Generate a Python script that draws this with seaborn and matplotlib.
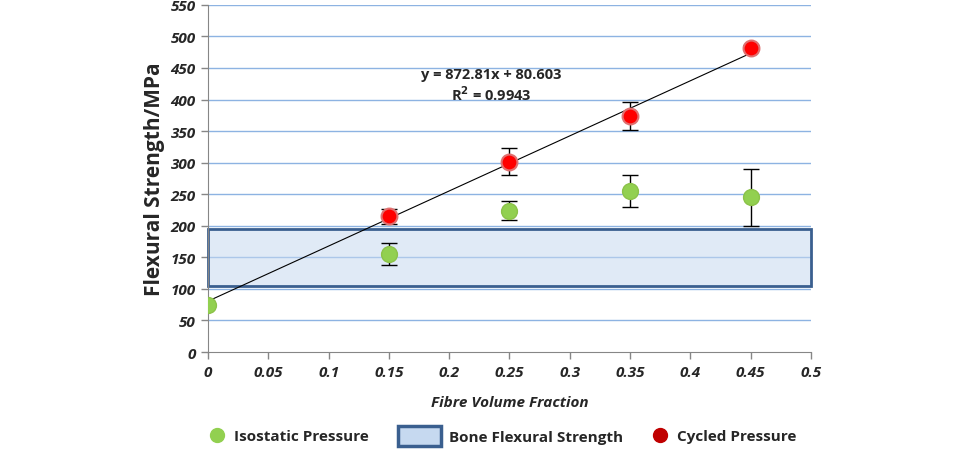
import numpy as np
import pandas as pd
import matplotlib
matplotlib.use('Agg')
import matplotlib.pyplot as plt
import seaborn as sns
from matplotlib.lines import Line2D
from matplotlib.patches import Patch, Rectangle

# data
iso_x = [0, 0.15, 0.25, 0.35, 0.45]
iso_y = [74, 155, 224, 255, 245]
iso_lo = [0, 17, 15, 25, 46]
iso_hi = [0, 17, 16, 25, 45]

cyc_x = [0.15, 0.25, 0.35, 0.45]
cyc_y = [215, 301, 374, 481]
cyc_lo = [12, 21, 22, 3]
cyc_hi = [12, 22, 22, 6]

bone_lo, bone_hi = 105, 195
slope, intercept = 872.81, 80.603

sns.set_style('white')
plt.rcParams['font.family'] = ['Open Sans', 'DejaVu Sans']

iso = pd.DataFrame({'x': iso_x, 'y': iso_y, 'group': 'Isostatic Pressure'})
cyc = pd.DataFrame({'x': cyc_x, 'y': cyc_y, 'group': 'Cycled Pressure'})

fig = plt.figure(figsize=(9.6, 4.52), dpi=100)
ax = fig.add_axes([0.2167, 0.219, 0.628, 0.768])

# grid
for v in np.arange(50, 551, 50):
    ax.axhline(v, color='#8db3e2', lw=1, zorder=0)

# bone strength band
ax.add_patch(Rectangle((0, bone_lo), 0.5, bone_hi - bone_lo,
                       facecolor=(0.78, 0.85, 0.94, 0.55), edgecolor='#3a5f8f',
                       lw=2, zorder=1, clip_on=False))

# trend line
tx = np.array([0, 0.45])
ax.plot(tx, slope * tx + intercept, color='black', lw=0.8, zorder=2)

# error bars
ax.errorbar(iso_x[1:], iso_y[1:], yerr=[iso_lo[1:], iso_hi[1:]], fmt='none',
            ecolor='black', elinewidth=1, capsize=6, zorder=3)
ax.errorbar(cyc_x, cyc_y, yerr=[cyc_lo, cyc_hi], fmt='none',
            ecolor='black', elinewidth=1, capsize=6, zorder=3)

sns.scatterplot(data=iso, x='x', y='y', ax=ax, color='#92d050', s=130,
                edgecolor='#8cc24a', linewidth=1, zorder=4, legend=False)
sns.scatterplot(data=cyc, x='x', y='y', ax=ax, color='#ff0000', s=130,
                edgecolor='#e07070', linewidth=1.5, zorder=4, legend=False)

ax.text(0.235, 441, 'y = 872.81x + 80.603', ha='center', va='center',
        fontsize=10.5, fontweight='bold')
ax.text(0.235, 410, 'R$^\\mathbf{2}$ = 0.9943', ha='center', va='center',
        fontsize=10.5, fontweight='bold')

ax.set_xlim(0, 0.5)
ax.set_ylim(0, 550)
ax.set_xticks(np.arange(0, 0.51, 0.05))
ax.set_xticklabels(['0', '0.05', '0.1', '0.15', '0.2', '0.25', '0.3', '0.35',
                    '0.4', '0.45', '0.5'])
ax.set_yticks(np.arange(0, 551, 50))
for lab in ax.get_xticklabels() + ax.get_yticklabels():
    lab.set_fontweight('bold')
    lab.set_fontstyle('italic')
    lab.set_fontsize(11)
ax.tick_params(axis='both', direction='out', length=5, width=1,
               color='#868686', pad=4, left=True, bottom=True)

for s in ['top', 'right']:
    ax.spines[s].set_visible(False)
for s in ['left', 'bottom']:
    ax.spines[s].set_color('#868686')

ax.set_xlabel('Fibre Volume Fraction', fontsize=11, fontweight='bold',
              fontstyle='italic', labelpad=12)
ax.set_ylabel('Flexural Strength/MPa', fontsize=15, fontweight='bold',
              labelpad=4)

# legend: three pieces so each handle keeps its own width
leg_prop = {'size': 11, 'weight': 'bold'}
green_h = Line2D([], [], marker='o', ls='none', color='#92d050', markersize=10)
band_h = Patch(facecolor='#c6d9f0', edgecolor='#3a5f8f', lw=2.5)
red_h = Line2D([], [], marker='o', ls='none', color='#c00000', markersize=10)

leg1 = fig.legend([green_h], ['Isostatic Pressure'], loc='center left',
                  bbox_to_anchor=(0.21, 0.033), frameon=False, prop=leg_prop,
                  handlelength=1.0, handletextpad=0.6, borderpad=0)
leg2 = fig.legend([band_h], ['Bone Flexural Strength'], loc='center left',
                  bbox_to_anchor=(0.407, 0.033), frameon=False, prop=leg_prop,
                  handlelength=2.8, handleheight=1.7, handletextpad=0.5,
                  borderpad=0)
leg3 = fig.legend([red_h], ['Cycled Pressure'], loc='center left',
                  bbox_to_anchor=(0.672, 0.033), frameon=False, prop=leg_prop,
                  handlelength=1.0, handletextpad=0.6, borderpad=0)

fig.savefig('out.png', dpi=100)
